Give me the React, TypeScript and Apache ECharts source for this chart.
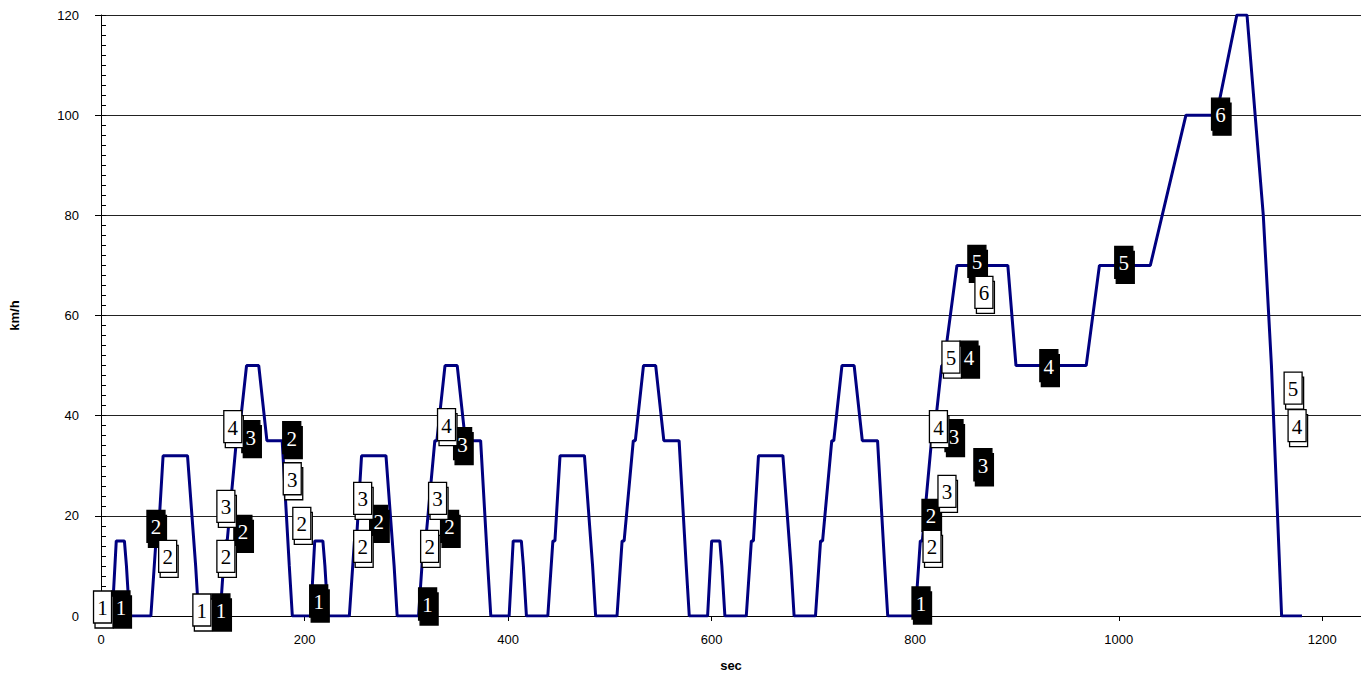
import React, { useEffect, useRef } from "react";
import * as echarts from "echarts";

// Driving cycle (NEDC): time in seconds and speed in km/h
const timeSec: number[] = [
  0, 11, 15, 23, 25, 28, 49, 54, 56, 61, 85, 93, 96, 117, 122, 124, 133, 135, 143, 155, 163, 176, 178, 185, 188,
  195, 206, 210, 218, 220, 223, 244, 249, 251, 256, 280, 288, 291, 312, 317, 319, 328, 330, 338, 350, 358, 371, 373, 380, 383,
  390, 401, 405, 413, 415, 418, 439, 444, 446, 451, 475, 483, 486, 507, 512, 514, 523, 525, 533, 545, 553, 566, 568, 575, 578,
  585, 596, 600, 608, 610, 613, 634, 639, 641, 646, 670, 678, 681, 702, 707, 709, 718, 720, 728, 740, 748, 761, 763, 770, 773,
  780, 800, 805, 807, 816, 818, 826, 828, 841, 891, 899, 968, 981, 1031, 1066, 1096, 1116, 1126, 1142, 1150, 1160, 1180,
];
const speedKmh: number[] = [
  0, 0, 15, 15, 10, 0, 0, 15, 15, 32, 32, 10, 0, 0, 15, 15, 35, 35, 50, 50, 35, 35, 35, 10, 0,
  0, 0, 15, 15, 10, 0, 0, 15, 15, 32, 32, 10, 0, 0, 15, 15, 35, 35, 50, 50, 35, 35, 35, 10, 0,
  0, 0, 15, 15, 10, 0, 0, 15, 15, 32, 32, 10, 0, 0, 15, 15, 35, 35, 50, 50, 35, 35, 35, 10, 0,
  0, 0, 15, 15, 10, 0, 0, 15, 15, 32, 32, 10, 0, 0, 15, 15, 35, 35, 50, 50, 35, 35, 35, 10, 0,
  0, 0, 15, 15, 35, 35, 50, 50, 70, 70, 50, 50, 70, 70, 100, 100, 120, 120, 80, 50, 0, 0,
];

// Gear markers (white boxes)
const whiteGearT: number[] = [1.5, 65.5, 99.1, 122.7, 122.7, 129.5, 187.9, 197.3, 257.1, 257.1, 330.7, 322.9, 339.5, 816.5, 831.2, 822.8, 835.1, 867.5, 1171.3, 1175.2];
const whiteGearV: number[] = [1.8, 11.9, 1.2, 21.9, 11.9, 37.8, 27.4, 18.5, 23.5, 13.9, 23.5, 13.9, 38.2, 13.9, 24.9, 37.8, 51.7, 64.6, 45.5, 38.0];
const whiteGear: number[] = [1, 2, 1, 3, 2, 4, 3, 2, 3, 2, 3, 2, 4, 2, 3, 4, 5, 6, 5, 4];

// Gear markers (black boxes)
const blackGearT: number[] = [19.6, 54.0, 117.8, 139.4, 147.2, 187.4, 213.9, 272.8, 320.9, 342.5, 355.3, 805.7, 815.5, 838.1, 866.5, 852.8, 860.6, 931.3, 1004.9, 1100];
const blackGearV: number[] = [1.8, 17.9, 1.2, 16.9, 35.8, 35.6, 3.0, 18.9, 2.4, 17.9, 34.4, 2.6, 20.1, 36.0, 30.2, 51.7, 70.8, 50.0, 70.6, 100.2];
const blackGear: number[] = [1, 2, 1, 2, 3, 2, 1, 2, 1, 2, 3, 1, 2, 3, 3, 4, 5, 4, 5, 6];

const yTicks = { min: 0, max: 120, interval: 20 };
const xTicks = { min: 0, max: 1238, interval: 200 };

const sans = "Liberation Sans, Arial, sans-serif";

function makeRender(fill: string, textColor: string) {
  return (params: any, api: any) => {
    const p = api.coord([api.value(0), api.value(1)]);
    const w = 18;
    const h = 32;
    return {
      type: "group",
      children: [
        {
          type: "rect",
          shape: { x: p[0] - w / 2 + 1.5, y: p[1] - h / 2 + 5, width: w, height: h },
          style: { fill, stroke: "#000", lineWidth: 1.3 },
        },
        {
          type: "rect",
          shape: { x: p[0] - w / 2, y: p[1] - h / 2, width: w, height: h },
          style: { fill, stroke: "#000", lineWidth: 1.3 },
        },
        {
          type: "text",
          style: {
            text: String(api.value(2)),
            x: p[0],
            y: p[1] + 1,
            align: "center",
            verticalAlign: "middle",
            fill: textColor,
            fontSize: 21,
            fontFamily: "Liberation Serif, serif",
          },
        },
      ],
    };
  };
}

export default function App() {
  const ref = useRef<HTMLDivElement>(null);
  useEffect(() => {
    if (!ref.current) return;
    const chart = echarts.init(ref.current, null, { renderer: "svg" });
    const lineData = timeSec.map((t, i) => [t, speedKmh[i]]);
    const whiteData = whiteGearT.map((t, i) => [t, whiteGearV[i], whiteGear[i]]);
    const blackData = blackGearT.map((t, i) => [t, blackGearV[i], blackGear[i]]);
    chart.setOption({
      animation: false,
      backgroundColor: "#fff",
      grid: { left: 100, right: 0, top: 15, bottom: 58, containLabel: false },
      xAxis: {
        type: "value",
        min: xTicks.min,
        max: xTicks.max,
        interval: xTicks.interval,
        name: "sec",
        nameLocation: "middle",
        nameGap: 43,
        nameTextStyle: { fontWeight: "bold", fontSize: 13, color: "#000", fontFamily: sans },
        axisLine: { show: true, lineStyle: { color: "#000", width: 1 } },
        axisTick: { show: true, length: 5, lineStyle: { color: "#000" } },
        axisLabel: {
          color: "#000",
          fontSize: 13,
          margin: 17,
          showMaxLabel: false,
          fontFamily: sans,
          formatter: (v: number) => String(v),
        },
        splitLine: { show: false },
      },
      yAxis: [
        {
          type: "value",
          min: yTicks.min,
          max: yTicks.max,
          interval: yTicks.interval,
          name: "km/h",
          nameLocation: "middle",
          nameRotate: 90,
          nameGap: 80,
          nameTextStyle: { fontWeight: "bold", fontSize: 13, color: "#000", fontFamily: sans },
          axisLine: { show: true, lineStyle: { color: "#000", width: 1 } },
          axisTick: { show: true, length: 6, lineStyle: { color: "#000" } },
          axisLabel: { color: "#000", fontSize: 13, margin: 22, fontFamily: sans, formatter: (v: number) => String(v) },
          splitLine: { show: true, lineStyle: { color: "#222", width: 1 } },
        },
        {
          type: "value",
          min: yTicks.min,
          max: yTicks.max,
          interval: 2,
          position: "left",
          axisLine: { show: false },
          axisTick: { show: true, inside: true, length: 5, lineStyle: { color: "#000" } },
          axisLabel: { show: false },
          splitLine: { show: false },
        },
      ],
      series: [
        {
          type: "line",
          data: lineData,
          showSymbol: false,
          symbol: "none",
          lineStyle: { color: "#000080", width: 3 },
          z: 2,
        },
        {
          type: "custom",
          data: blackData,
          renderItem: makeRender("#000", "#fff"),
          encode: { x: 0, y: 1 },
          z: 3,
        },
        {
          type: "custom",
          data: whiteData,
          renderItem: makeRender("#fff", "#000"),
          encode: { x: 0, y: 1 },
          z: 4,
        },
      ],
    });
    return () => chart.dispose();
  }, []);
  return (
    <div
      ref={ref}
      style={{ position: "absolute", left: 0, top: 0, width: 1361, height: 677 }}
    />
  );
}
